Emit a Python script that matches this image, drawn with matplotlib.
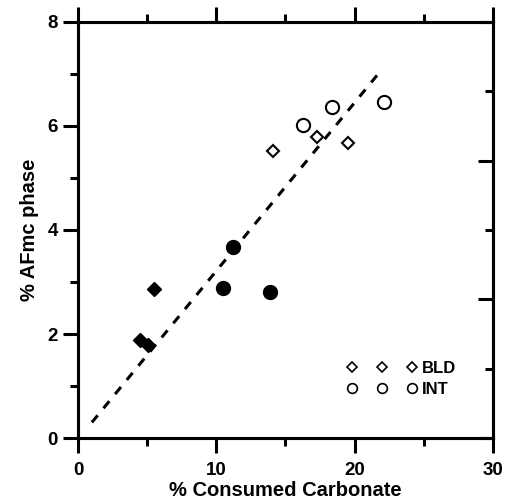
import matplotlib
matplotlib.use("Agg")
import matplotlib.pyplot as plt
from matplotlib.lines import Line2D
from matplotlib.ticker import MultipleLocator, NullFormatter

plt.rcParams['font.family'] = ['Liberation Sans', 'DejaVu Sans']
plt.rcParams['font.weight'] = 'bold'

# data
bld_x = [14.1, 17.3, 19.5]
bld_y = [5.52, 5.79, 5.68]
int_x = [16.3, 18.4, 22.1]
int_y = [6.02, 6.37, 6.47]
dia_fill_x = [4.45, 5.05, 5.5]
dia_fill_y = [1.88, 1.79, 2.86]
circ_fill_x = [10.45, 11.2, 13.9]
circ_fill_y = [2.88, 3.68, 2.81]
fit_x = [1.0, 21.7]
fit_y = [0.30, 7.0]

fig = plt.figure(figsize=(5.14, 5.03), dpi=100)
ax = fig.add_axes([0.1518, 0.1292, 0.8072, 0.8271])

ax.plot(fit_x, fit_y, color='black', lw=2.2, linestyle=(0, (3, 3)))
ax.plot(dia_fill_x, dia_fill_y, 'D', color='black', ms=7.2)
ax.plot(circ_fill_x, circ_fill_y, 'o', color='black', ms=10)
ax.plot(bld_x, bld_y, 'D', mfc='white', mec='black', mew=1.5, ms=6.5)
ax.plot(int_x, int_y, 'o', mfc='white', mec='black', mew=1.5, ms=9.5)

ax.set_xlim(0, 30)
ax.set_ylim(0, 8)
ax.xaxis.set_major_locator(MultipleLocator(10))
ax.xaxis.set_minor_locator(MultipleLocator(5))
ax.yaxis.set_major_locator(MultipleLocator(2))
ax.yaxis.set_minor_locator(MultipleLocator(1))
ax.tick_params(which='major', direction='out', length=11, width=2.2,
               labelsize=13.5, top=True, labeltop=False)
ax.tick_params(which='minor', direction='out', length=6, width=2.2, top=True)
ax.tick_params(axis='x', which='major', pad=6)
ax.tick_params(axis='y', which='both', right=False)

for s in ax.spines.values():
    s.set_linewidth(2.2)

# unlabelled scale on the right side, ticks pointing in
ax2 = ax.twinx()
ax2.set_ylim(0, 6)
ax2.yaxis.set_major_locator(MultipleLocator(2))
ax2.yaxis.set_minor_locator(MultipleLocator(1))
ax2.yaxis.set_major_formatter(NullFormatter())
ax2.tick_params(which='major', direction='in', length=11, width=2.2)
ax2.tick_params(which='minor', direction='in', length=6, width=2.2)
for s in ax2.spines.values():
    s.set_linewidth(2.2)

ax.set_xlabel('% Consumed Carbonate', fontsize=14.5, fontweight='bold', labelpad=2)
ax.set_ylabel('% AFmc phase', fontsize=14.5, fontweight='bold', labelpad=6)

handles = [
    Line2D([], [], marker='D', ls='none', mfc='white', mec='black', mew=1.2, ms=5.5),
    Line2D([], [], marker='o', ls='none', mfc='white', mec='black', mew=1.2, ms=7),
]
ax.legend(handles, ['BLD', 'INT'], numpoints=3, handlelength=4.2, handletextpad=0.3,
          frameon=False, loc='lower right', bbox_to_anchor=(0.948, 0.063),
          prop={'size': 12, 'weight': 'bold'}, labelspacing=0.35)

fig.savefig('out.png', dpi=100)
